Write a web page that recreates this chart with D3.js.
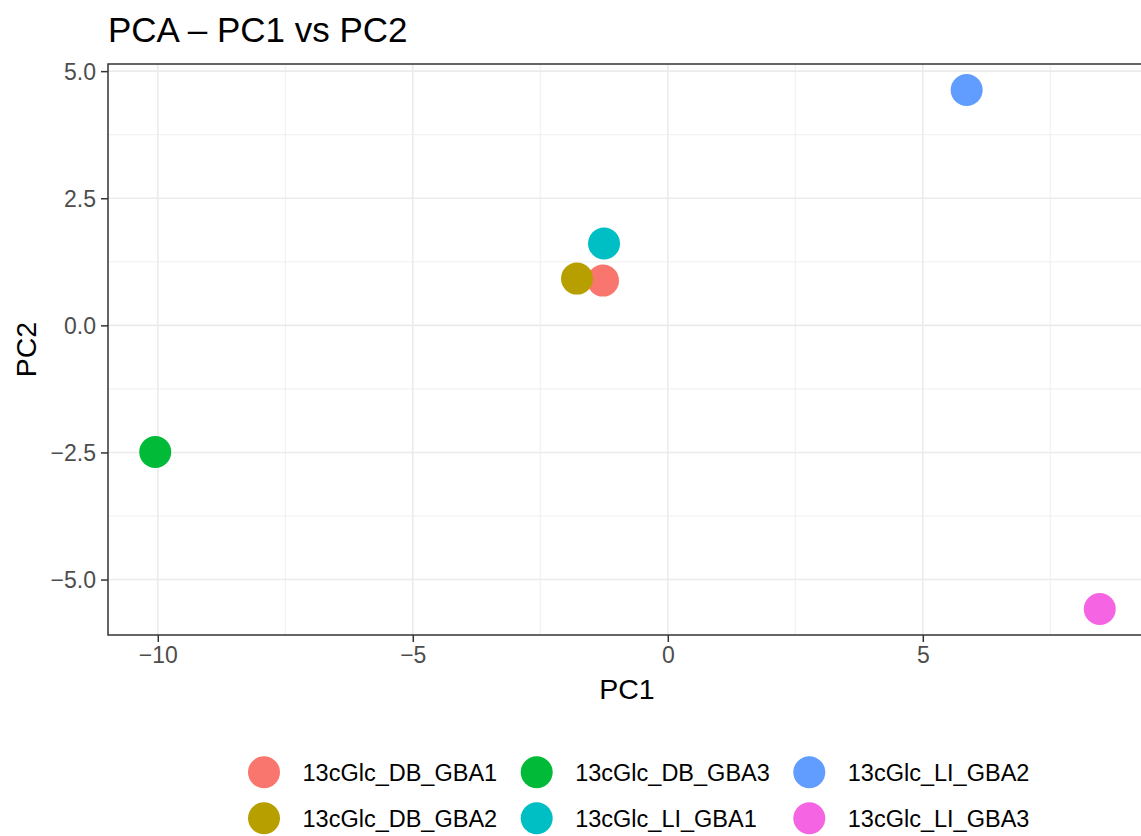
<!DOCTYPE html>
<html>
<head>
<meta charset="utf-8">
<script src="https://cdn.jsdelivr.net/npm/d3@7"></script>
<style>
  html, body { margin: 0; padding: 0; background: #fff; }
  svg { display: block; font-family: "Liberation Sans", Arial, sans-serif; }
</style>
</head>
<body>
<svg id="chart" width="1141" height="836"></svg>
<script>
// ---- data ----
const samples = ["13cGlc_DB_GBA1", "13cGlc_DB_GBA2", "13cGlc_DB_GBA3", "13cGlc_LI_GBA1", "13cGlc_LI_GBA2", "13cGlc_LI_GBA3"];
const pc1 = [-1.27, -1.78, -10.05, -1.25, 5.86, 8.47];
const pc2 = [0.88, 0.92, -2.49, 1.61, 4.63, -5.58];
const colors = ["#F8766D", "#B79F00", "#00BA38", "#00BFC4", "#619CFF", "#F564E3"];
const xTicks = [-10, -5, 0, 5];
const xTickLabels = ["\u221210", "\u22125", "0", "5"];
const yTicks = [-5, -2.5, 0, 2.5, 5];
const yTickLabels = ["\u22125.0", "\u22122.5", "0.0", "2.5", "5.0"];
const xMinor = [-7.5, -2.5, 2.5, 7.5];
const yMinor = [-3.75, -1.25, 1.25, 3.75];
const title = "PCA \u2013 PC1 vs PC2";
const xTitle = "PC1";
const yTitle = "PC2";

const svg = d3.select("#chart");

// expanded domains (ggplot 5% expansion)
function expand(vals) {
  const [a, b] = d3.extent(vals);
  const e = (b - a) * 0.05;
  return [a - e, b + e];
}
const panel = { left: 108, right: 1147, top: 64, bottom: 635 };
const x = d3.scaleLinear().domain(expand(pc1)).range([panel.left, panel.right]);
const y = d3.scaleLinear().domain(expand(pc2)).range([panel.bottom, panel.top]);

const clipId = "panelclip";
svg.append("defs").append("clipPath").attr("id", clipId)
  .append("rect").attr("x", panel.left).attr("y", panel.top)
  .attr("width", panel.right - panel.left).attr("height", panel.bottom - panel.top);

const g = svg.append("g").attr("clip-path", `url(#${clipId})`);

// minor grid
g.selectAll(".xminor").data(xMinor).enter().append("line")
  .attr("x1", d => x(d)).attr("x2", d => x(d))
  .attr("y1", panel.top).attr("y2", panel.bottom)
  .attr("stroke", "#EBEBEB").attr("stroke-width", 0.8);
g.selectAll(".yminor").data(yMinor).enter().append("line")
  .attr("y1", d => y(d)).attr("y2", d => y(d))
  .attr("x1", panel.left).attr("x2", panel.right)
  .attr("stroke", "#EBEBEB").attr("stroke-width", 0.8);
// major grid
g.selectAll(".xmajor").data(xTicks).enter().append("line")
  .attr("x1", d => x(d)).attr("x2", d => x(d))
  .attr("y1", panel.top).attr("y2", panel.bottom)
  .attr("stroke", "#EBEBEB").attr("stroke-width", 1.6);
g.selectAll(".ymajor").data(yTicks).enter().append("line")
  .attr("y1", d => y(d)).attr("y2", d => y(d))
  .attr("x1", panel.left).attr("x2", panel.right)
  .attr("stroke", "#EBEBEB").attr("stroke-width", 1.6);

// points
g.selectAll(".pt").data(samples).enter().append("circle")
  .attr("cx", (d, i) => x(pc1[i]))
  .attr("cy", (d, i) => y(pc2[i]))
  .attr("r", 16)
  .attr("fill", (d, i) => colors[i]);

// panel border
svg.append("rect")
  .attr("x", panel.left).attr("y", panel.top)
  .attr("width", panel.right - panel.left).attr("height", panel.bottom - panel.top)
  .attr("fill", "none").attr("stroke", "#333333").attr("stroke-width", 1.5);

// axes
const xAxis = d3.axisBottom(x).tickValues(xTicks)
  .tickFormat((d, i) => xTickLabels[i]).tickSize(7).tickPadding(5);
const yAxis = d3.axisLeft(y).tickValues(yTicks)
  .tickFormat((d, i) => yTickLabels[i]).tickSize(7).tickPadding(5);

const gx = svg.append("g").attr("transform", `translate(0,${panel.bottom})`).call(xAxis);
const gy = svg.append("g").attr("transform", `translate(${panel.left},0)`).call(yAxis);
[gx, gy].forEach(a => {
  a.select(".domain").remove();
  a.selectAll(".tick line").attr("stroke", "#333333").attr("stroke-width", 1.5);
  a.selectAll(".tick text").attr("fill", "#4D4D4D")
    .style("font-size", "23px").style("font-family", "Liberation Sans, Arial, sans-serif");
});
gx.selectAll(".tick text").attr("dy", "0.71em");
gy.selectAll(".tick text").attr("dy", "0.36em");

// titles
svg.append("text").attr("x", 108).attr("y", 42)
  .style("font-size", "35px").attr("fill", "#000").text(title);
svg.append("text").attr("x", (panel.left + panel.right) / 2 - 0.5).attr("y", 699)
  .attr("text-anchor", "middle").style("font-size", "28.5px").attr("fill", "#000").text(xTitle);
svg.append("text")
  .attr("transform", `translate(36,${(panel.top + panel.bottom) / 2}) rotate(-90)`)
  .attr("text-anchor", "middle").style("font-size", "28.5px").attr("fill", "#000").text(yTitle);

// legend (column-major, 2 rows x 3 cols)
const legColX = [264, 536.7, 809.3];
const legRowY = [772.3, 818.3];
const leg = svg.append("g");
samples.forEach((s, i) => {
  const col = Math.floor(i / 2), row = i % 2;
  const cx = legColX[col], cy = legRowY[row];
  leg.append("circle").attr("cx", cx).attr("cy", cy).attr("r", 16).attr("fill", colors[i]);
  leg.append("text").attr("x", cx + 38.5).attr("y", cy).attr("dy", "0.36em")
    .style("font-size", "23.5px").attr("fill", "#000").text(s);
});
</script>
</body>
</html>
